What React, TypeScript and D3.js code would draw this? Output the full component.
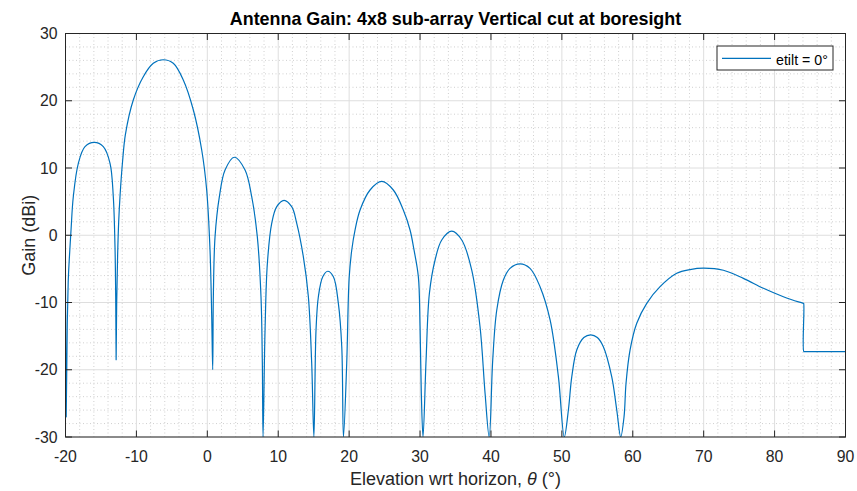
import React from "react";
import * as d3 from "d3";

const title = "Antenna Gain: 4x8 sub-array Vertical cut at boresight";
const xLabel = "Elevation wrt horizon, ";
const yLabel = "Gain (dBi)";
const legendLabel = "etilt = 0°";

const xTicks = [-20, -10, 0, 10, 20, 30, 40, 50, 60, 70, 80, 90];
const yTicks = [-30, -20, -10, 0, 10, 20, 30];

// elevation (deg)
const elevation = [
  -20, -19.9, -19.75, -19.62, -19.5, -19.22, -18.9, -18.19, -17.25, -15.94, -14.67, -13.72, -13.26, -13.02, -12.92, -12.86,
  -12.78, -12.65, -12.5, -12.3, -11.95, -11.55, -10.44, -9.03, -7.62, -6.21, -4.8, -3.39, -1.97, -0.79, -0.09, 0.38, 0.62, 0.76,
  0.85, 1.09, 1.7, 2.5, 3.81, 5.32, 6.26, 7.05, 7.57, 7.76, 7.86,
  8.14, 8.47, 9.08, 9.79, 10.82, 11.9, 12.61, 13.54, 14.25, 14.72, 15.03,
  15.33, 15.66, 16.28, 16.98, 17.78, 18.48, 18.96, 19.2,
  19.66, 20.0, 20.37, 20.83, 21.54, 22.95, 24.6, 26.23, 27.64, 28.59, 29.15, 29.76, 30.0, 30.18, 30.42,
  30.85, 31.32, 32.12, 33.06, 34.47, 35.88, 37.29, 38.46, 39.17, 39.75,
  40.25, 40.82, 41.75, 42.69, 44.1, 45.51, 46.92, 48.34, 49.51, 50.34,
  50.92, 51.4, 52.1, 53.1, 54.08, 55.0, 55.85, 57.03, 57.74, 58.3,
  58.77, 59.05, 59.62, 60.56, 61.97, 63.85, 66.2, 68.08, 70.0, 72.78, 75.6, 78.42, 81.24, 83.5, 84.05, 84.1, 84.12, 84.25, 90,
];
// gain (dBi)
const gain = [
  -8.1, -27.0, -13.0, -7.0, -4.17, 0.78, 5.73, 10.7, 13.17, 13.8, 13.17, 10.7, 5.73, -1.7, -9.14, -18.5,
  -10, -3, 2, 6, 11, 15.0, 20.11, 23.58, 25.57, 26.1, 25.57, 23.09, 18.62, 12.68, 6.73, -2.19, -12.11, -20.0,
  -9.14, -0.21, 5.73, 9.7, 11.6, 9.7, 5.73, -0.21, -9.14, -19.04, -30,
  -14.09, -4.17, 1.78, 4.25, 5.2, 4.25, 1.78, -3.18, -9.14, -19.04, -30,
  -14.09, -9.14, -6.17, -5.35, -6.17, -10.13, -16.57, -30,
  -19.04, -6.4, -2.19, 0.78, 3.75, 6.73, 8.0, 6.73, 3.75, 0.78, -2.19, -6.16, -13.6, -23.5, -30,
  -18.55, -8.63, -3.68, -0.71, 0.6, -0.71, -5.17, -13.6, -23.5, -30,
  -18.55, -11.12, -6.66, -4.92, -4.25, -4.92, -7.65, -12.6, -21.03, -30,
  -25.98, -21.03, -17.06, -15.2, -14.8, -15.2, -16.57, -21.03, -25.98, -30,
  -26.98, -22.0, -17.06, -13.09, -10.12, -7.65, -5.66, -5.1, -4.9, -5.2, -6.41, -7.89, -9.14, -9.95, -10.12, -10.14, -17.3, -17.3, -17.3,
];

const W = 857;
const H = 491;
const L = 65.5, R = 845.5, T = 33.5, B = 437;
const FONT = "'Liberation Sans', Arial, Helvetica, sans-serif";
const AX = "#262626";
const BLUE = "#0072BD";

export default function App() {
  const x = d3.scaleLinear().domain([-20, 90]).range([L, R]);
  const y = d3.scaleLinear().domain([-30, 30]).range([B, T]);
  const pts = elevation.map((e, i) => [e, gain[i]] as [number, number]);
  const line = d3
    .line<[number, number]>()
    .x((d) => x(d[0]))
    .y((d) => y(d[1]))
    .curve(d3.curveCatmullRom.alpha(0.5));

  const xMinor = d3.range(-20, 90.001, 2).filter((v) => Math.abs(v % 10) > 0.01);
  const yMinor = d3.range(-30, 30.001, 2).filter((v) => Math.abs(v % 10) > 0.01);
  const tl = 6.5;

  return (
    <svg
      width={W}
      height={H}
      style={{ position: "absolute", left: 0, top: 0, background: "#fff" }}
      fontFamily={FONT}
    >
      <rect x={0} y={0} width={W} height={H} fill="#fff" />
      <defs>
        <clipPath id="plot">
          <rect x={L} y={T} width={R - L} height={B - T} />
        </clipPath>
      </defs>
      {/* minor grid */}
      <g stroke="#c4c4c4" strokeWidth={0.8} strokeDasharray="1 2.5">
        {xMinor.map((v) => (
          <line key={"xm" + v} x1={x(v)} x2={x(v)} y1={T} y2={B} />
        ))}
        {yMinor.map((v) => (
          <line key={"ym" + v} x1={L} x2={R} y1={y(v)} y2={y(v)} />
        ))}
      </g>
      {/* major grid */}
      <g stroke="#dedede" strokeWidth={1}>
        {xTicks.map((v) => (
          <line key={"xg" + v} x1={x(v)} x2={x(v)} y1={T} y2={B} />
        ))}
        {yTicks.map((v) => (
          <line key={"yg" + v} x1={L} x2={R} y1={y(v)} y2={y(v)} />
        ))}
      </g>
      {/* data */}
      <path
        d={line(pts) || ""}
        fill="none"
        stroke={BLUE}
        strokeWidth={1.2}
        strokeLinejoin="round"
        clipPath="url(#plot)"
      />
      {/* box and ticks */}
      <rect x={L} y={T} width={R - L} height={B - T} fill="none" stroke={AX} strokeWidth={1} />
      <g stroke={AX} strokeWidth={1}>
        {xTicks.map((v) => (
          <g key={"xt" + v}>
            <line x1={x(v)} x2={x(v)} y1={B} y2={B - tl} />
            <line x1={x(v)} x2={x(v)} y1={T} y2={T + tl} />
          </g>
        ))}
        {yTicks.map((v) => (
          <g key={"yt" + v}>
            <line x1={L} x2={L + tl} y1={y(v)} y2={y(v)} />
            <line x1={R} x2={R - tl} y1={y(v)} y2={y(v)} />
          </g>
        ))}
      </g>
      {/* tick labels */}
      <g fill={AX} fontSize={15.8}>
        {xTicks.map((v) => (
          <text key={"xl" + v} x={x(v)} y={461.5} textAnchor="middle">
            {v}
          </text>
        ))}
        {yTicks.map((v) => (
          <text key={"yl" + v} x={57.5} y={y(v) + 5.7} textAnchor="end">
            {v}
          </text>
        ))}
      </g>
      {/* labels */}
      <text x={(L + R) / 2} y={485} textAnchor="middle" fontSize={18} fill={AX}>
        {xLabel}
        <tspan fontStyle="italic">θ</tspan>
        {" (°)"}
      </text>
      <text
        transform={`translate(35,${(T + B) / 2}) rotate(-90)`}
        textAnchor="middle"
        fontSize={18}
        fill={AX}
      >
        {yLabel}
      </text>
      <text x={(L + R) / 2} y={25} textAnchor="middle" fontSize={17.9} fontWeight="bold" fill="#000">
        {title}
      </text>
      {/* legend */}
      <rect x={717} y={46} width={116} height={24} fill="#fff" stroke={AX} strokeWidth={1} />
      <line x1={722} x2={771} y1={58.3} y2={58.3} stroke={BLUE} strokeWidth={1.2} />
      <text x={776} y={64.5} fontSize={14.2} fill="#000">
        {legendLabel}
      </text>
    </svg>
  );
}
